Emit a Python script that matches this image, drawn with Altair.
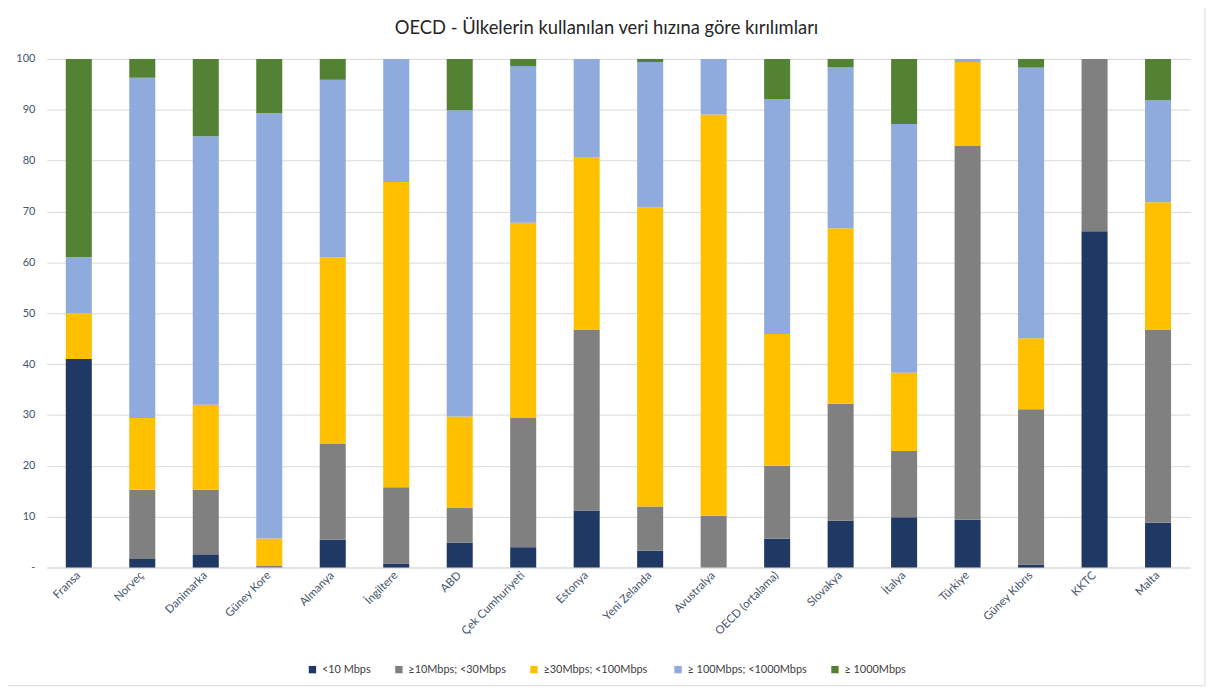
import altair as alt
import pandas as pd

countries = ["Fransa", "Norveç", "Danimarka", "Güney Kore", "Almanya", "İngiltere", "ABD",
             "Çek Cumhuriyeti", "Estonya", "Yeni Zelanda", "Avustralya", "OECD (ortalama)",
             "Slovakya", "İtalya", "Türkiye", "Güney Kıbrıs", "KKTC", "Malta"]

series = ["<10 Mbps", "≥10Mbps; <30Mbps", "≥30Mbps;  <100Mbps", "≥ 100Mbps; <1000Mbps", "≥ 1000Mbps"]
colors = ["#203864", "#808080", "#FFC000", "#8FAADC", "#548235"]

lt10 =      [41.0, 1.8, 2.6, 0.0, 5.5, 0.8, 4.9, 4.0, 11.2, 3.3, 0.0, 5.7, 9.2, 9.9, 9.4, 0.6, 66.1, 8.8]
s10_30 =    [0.0, 13.5, 12.7, 0.4, 18.9, 15.0, 6.8, 25.4, 35.6, 8.7, 10.2, 14.3, 23.0, 13.0, 73.5, 30.5, 33.9, 38.0]
s30_100 =   [9.0, 14.1, 16.7, 5.3, 36.6, 60.0, 18.0, 38.4, 33.9, 58.8, 78.9, 25.9, 34.5, 15.4, 16.5, 14.0, 0.0, 25.0]
s100_1000 = [11.0, 66.9, 52.8, 83.6, 34.9, 24.2, 60.2, 30.8, 19.3, 28.6, 10.9, 46.2, 31.7, 48.9, 0.6, 53.2, 0.0, 20.1]
ge1000 =    [39.0, 3.7, 15.2, 10.7, 4.1, 0.0, 10.1, 1.4, 0.0, 0.6, 0.0, 7.9, 1.6, 12.8, 0.0, 1.7, 0.0, 8.1]

rows = []
for si, (name, vals) in enumerate(zip(series, [lt10, s10_30, s30_100, s100_1000, ge1000])):
    for c, v in zip(countries, vals):
        rows.append({"country": c, "series": name, "idx": si, "value": v})
df = pd.DataFrame(rows)

FONT = "Lato"
TXT = "#44546A"

bars = alt.Chart(df).mark_bar().encode(
    x=alt.X("country:N", sort=countries, title=None,
            scale=alt.Scale(paddingInner=0.59, paddingOuter=0.3),
            axis=alt.Axis(labelAngle=315, labelAlign="right", labelBaseline="middle",
                          labelPadding=6, ticks=False, domainColor="#d9d9d9",
                          labelColor=TXT, labelFontSize=11.5, labelFont=FONT)),
    y=alt.Y("value:Q", stack="zero", title=None,
            scale=alt.Scale(domain=[0, 100], nice=False),
            axis=alt.Axis(values=list(range(0, 101, 10)), domain=False, ticks=False,
                          labelExpr="datum.value == 0 ? '-' : datum.label",
                          gridColor="#d9d9d9", labelColor=TXT, labelFontSize=11,
                          labelFont=FONT, labelPadding=12)),
    color=alt.Color("series:N", sort=series,
                    scale=alt.Scale(domain=series, range=colors),
                    legend=alt.Legend(title=None, orient="none", legendX=262, legendY=609,
                                      direction="horizontal", symbolType="square",
                                      symbolSize=55, labelFontSize=11, labelFont=FONT,
                                      labelColor="#404040", columnPadding=22,
                                      symbolStrokeWidth=0)),
    order=alt.Order("idx:Q", sort="ascending"),
)

border = alt.Chart(alt.Data(values=[{}])).mark_rect(
    fill=None, stroke="#d9d9d9", strokeWidth=1
).encode(x=alt.value(-42), x2=alt.value(1166), y=alt.value(-54), y2=alt.value(631))

chart = alt.layer(border, bars).properties(
    width=1151, height=512,
    title=alt.TitleParams("OECD - Ülkelerin kullanılan veri hızına göre kırılımları",
                          fontSize=18.5, font=FONT, fontWeight="normal", color="#262626",
                          anchor="middle", frame="group", offset=-33, dx=-12),
    autosize=alt.AutoSizeParams(type="none"),
    padding={"left": 39, "top": 49, "right": 17, "bottom": 122},
).configure_view(stroke=None)

chart.save("out.html", embed_options={"renderer": "svg", "actions": False})
